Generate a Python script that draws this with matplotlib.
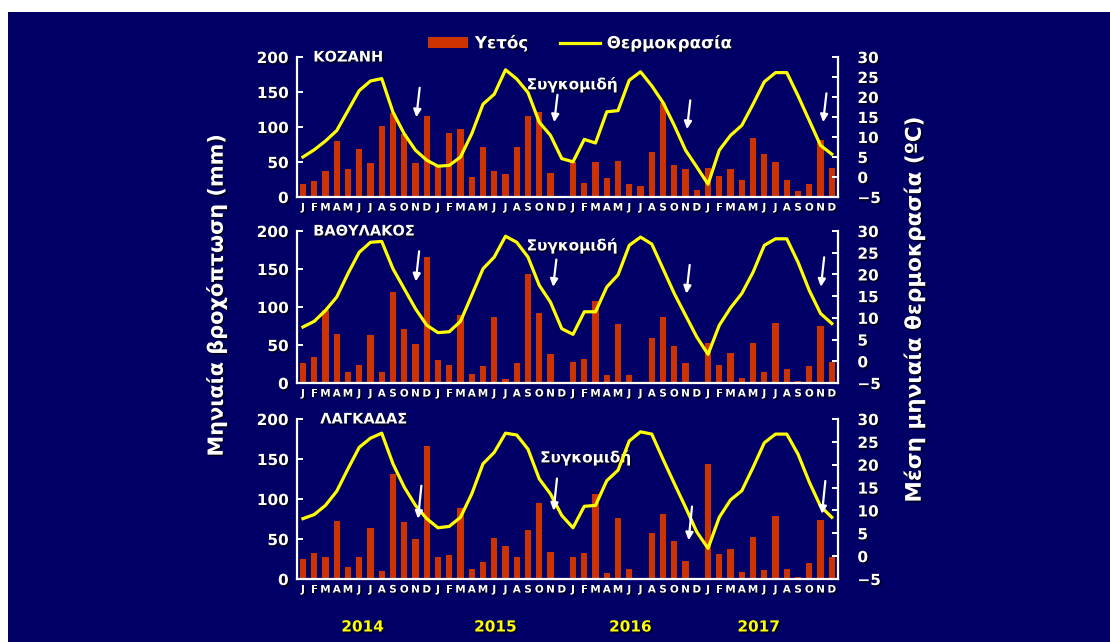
import numpy as np
import matplotlib
matplotlib.use('Agg')
from matplotlib import pyplot as plt
from matplotlib.patches import Patch, Rectangle
from matplotlib.lines import Line2D
import matplotlib.patheffects as pe

# Data
# ------------------------------------------------------------------------------------------------------------
month_letters = ['J', 'F', 'M', 'A', 'M', 'J', 'J', 'A', 'S', 'O', 'N', 'D'] * 4
years = ['2014', '2015', '2016', '2017']
year_pos = [5.3, 17.1, 29.1, 40.5]

stations = ['ΚΟΖΑΝΗ', 'ΒΑΘΥΛΑΚΟΣ', 'ΛΑΓΚΑΔΑΣ']

rain_kozani = [19, 23, 37, 80, 40, 69, 48, 102, 120, 90, 48, 115,
               46, 92, 97, 29, 71, 37, 33, 71, 115, 121, 35, 2,
               50, 20, 50, 27, 52, 18, 16, 65, 134, 46, 40, 10,
               42, 30, 40, 24, 84, 62, 50, 24, 8, 18, 81, 42]
temp_kozani = [5.0, 6.8, 9.0, 11.6, 16.6, 21.6, 24.0, 24.6, 16.2, 10.8, 6.7, 4.2,
               2.7, 2.9, 5.0, 10.8, 18.2, 20.7, 26.8, 24.5, 21.1, 13.7, 10.4, 4.6,
               3.8, 9.4, 8.5, 16.3, 16.6, 24.2, 26.3, 22.8, 18.6, 12.9, 6.7, 2.5,
               -1.8, 6.7, 10.4, 12.9, 18.2, 23.8, 26.1, 26.1, 20.3, 14.1, 7.9, 5.7]

rain_vathylakos = [26, 34, 96, 65, 14, 24, 63, 14, 120, 71, 51, 166,
                   30, 24, 89, 12, 22, 87, 5, 26, 143, 92, 38, 0,
                   28, 32, 108, 11, 77, 11, 0, 59, 87, 49, 26, 0,
                   53, 24, 40, 6, 53, 14, 79, 18, 3, 22, 75, 27]
temp_vathylakos = [7.9, 9.2, 11.7, 14.8, 20.2, 25.1, 27.4, 27.6, 21.3, 16.7, 12.1, 8.3,
                   6.6, 6.8, 9.2, 15.2, 21.3, 24.0, 28.8, 27.4, 24.0, 17.5, 13.6, 7.5,
                   6.2, 11.4, 11.4, 17.1, 19.9, 26.7, 28.6, 27.0, 21.3, 15.6, 10.6, 5.6,
                   1.6, 8.3, 12.3, 15.6, 20.5, 26.7, 28.2, 28.2, 22.8, 16.3, 11.0, 8.7]

rain_lagkadas = [25, 32, 27, 72, 15, 27, 64, 10, 131, 71, 50, 166,
                 27, 30, 89, 13, 21, 51, 41, 27, 61, 95, 34, 0,
                 28, 32, 106, 8, 76, 13, 0, 57, 81, 48, 22, 0,
                 144, 31, 37, 9, 52, 11, 79, 13, 2, 20, 74, 28]
temp_lagkadas = [8.2, 9.1, 11.1, 14.2, 19.1, 23.8, 25.8, 26.9, 20.2, 15.1, 11.1, 8.2,
                 6.2, 6.5, 8.5, 13.6, 20.2, 22.7, 26.9, 26.5, 23.4, 16.9, 13.6, 8.9,
                 6.2, 10.9, 11.1, 16.5, 18.8, 25.2, 27.2, 26.7, 21.2, 15.9, 10.7, 5.3,
                 1.7, 8.5, 12.3, 14.3, 19.4, 24.8, 26.7, 26.7, 22.3, 16.2, 10.9, 8.5]

rain_all = [rain_kozani, rain_vathylakos, rain_lagkadas]
temp_all = [temp_kozani, temp_vathylakos, temp_lagkadas]

# harvest arrows: head month, tail (mm), head (mm) per panel
arrow_month = [[10.05, 22.3, 34.1, 46.2],
               [10.0, 22.2, 34.05, 46.0],
               [10.2, 22.25, 34.25, 46.1]]
arrow_top = [[160, 150, 142, 152],
             [177, 166, 159, 169],
             [120, 129, 94, 126]]
arrow_bottom = [[110, 103, 93, 103],
                [130, 123, 114, 123],
                [72, 82, 45, 78]]
harvest_label_pos = [(23.9, 161), (23.9, 181), (25.1, 152)]
# ------------------------------------------------------------------------------------------------------------

navy = '#000066'
bar_color = '#CC3300'
line_color = '#FFFF00'
shadow = [pe.withSimplePatchShadow(offset=(1.2, -1.2), shadow_rgbFace='black', alpha=0.7)]

W, H = 1110, 642
fig = plt.figure(figsize=(W / 100, H / 100), dpi=100, facecolor='white')
fig.patches.append(Rectangle((8 / W, 0), 1 - 8 / W, 1 - 12 / H, transform=fig.transFigure,
                             facecolor=navy, edgecolor='none', zorder=-10))

# axes placement in pixels: (top, bottom)
panel_px = [(57, 197), (231, 383), (419, 579)]
left_px, right_px = 297, 838
x = np.arange(48)

for i, (top, bottom) in enumerate(panel_px):
    rect = [left_px / W, 1 - bottom / H, (right_px - left_px) / W, (bottom - top) / H]
    ax = fig.add_axes(rect)
    ax2 = ax.twinx()
    ax.set_facecolor('none')
    ax2.set_facecolor('none')

    ax.bar(x, rain_all[i], width=0.55, color=bar_color, zorder=2)
    ax2.plot(x, temp_all[i], color=line_color, lw=2.3, zorder=3, solid_joinstyle='round')

    ax.set_xlim(-0.53, 47.55)
    ax.set_ylim(0, 200)
    ax2.set_ylim(-5, 30)
    ax.set_yticks(np.arange(0, 201, 50))
    ax2.set_yticks(np.arange(-5, 31, 5))
    ax.set_xticks(x)
    ax.set_xticklabels(month_letters)

    for a in (ax, ax2):
        for s in a.spines.values():
            s.set_color('white')
            s.set_linewidth(1.6)
        a.spines['top'].set_visible(False)
    ax.spines['right'].set_visible(False)
    ax2.spines['left'].set_visible(False)
    ax2.spines['bottom'].set_visible(False)

    ax.tick_params(axis='y', direction='in', length=4, width=1.4, color='white', labelcolor='white',
                   labelsize=11, pad=6)
    ax2.tick_params(axis='y', direction='in', length=4, width=1.4, color='white', labelcolor='white',
                    labelsize=11, pad=14)
    ax.tick_params(axis='x', length=0, labelcolor='white', labelsize=7.5, pad=4)
    for lab in ax.get_yticklabels() + ax2.get_yticklabels() + ax.get_xticklabels():
        lab.set_fontweight('bold')
        lab.set_path_effects(shadow)

    ax.text(0.03 if i < 2 else 0.043, 1.0, stations[i], transform=ax.transAxes, color='white',
            fontsize=10.5, fontweight='bold', va='center', ha='left', path_effects=shadow, zorder=5)
    ax.text(*harvest_label_pos[i], 'Συγκομιδή', color='white', fontsize=11, fontweight='bold',
            ha='center', va='center', path_effects=shadow, zorder=5)

    for m, yt, yb in zip(arrow_month[i], arrow_top[i], arrow_bottom[i]):
        ax2.annotate('', xy=(m, ax2.transData.inverted().transform(ax.transData.transform((m, yb)))[1]),
                     xytext=(m + 0.35, ax2.transData.inverted().transform(ax.transData.transform((m, yt)))[1]),
                     arrowprops=dict(arrowstyle='-|>', color='white', lw=1.6, mutation_scale=11),
                     zorder=6)

    if i == 2:
        for yr, xp in zip(years, year_pos):
            ax.text(xp, -0.3, yr, transform=ax.get_xaxis_transform(), color=line_color,
                    fontsize=11, fontweight='bold', ha='center', va='center', path_effects=shadow)

# axis titles
fig.text(216 / W, 1 - 295 / H, 'Μηνιαία βροχόπτωση (mm)', rotation=90, color='white', fontsize=15,
         fontweight='bold', ha='center', va='center', path_effects=shadow)
fig.text(914 / W, 1 - 310 / H, 'Μέση μηνιαία θερμοκρασία (ºC)', rotation=90, color='white', fontsize=15.5,
         fontweight='bold', ha='center', va='center', path_effects=shadow)

# legend
handles = [Patch(facecolor=bar_color, edgecolor='none'), Line2D([], [], color=line_color, lw=2.3)]
leg = fig.legend(handles, ['Υετός', 'Θερμοκρασία'], loc='center', bbox_to_anchor=(580 / W, 1 - 43 / H),
                 ncol=2, frameon=False, fontsize=12, handlelength=2.4, handletextpad=0.4,
                 columnspacing=1.9, handleheight=0.6)
for t in leg.get_texts():
    t.set_color('white')
    t.set_fontweight('bold')
    t.set_path_effects(shadow)

fig.savefig('out.png', dpi=100, facecolor=fig.get_facecolor())
